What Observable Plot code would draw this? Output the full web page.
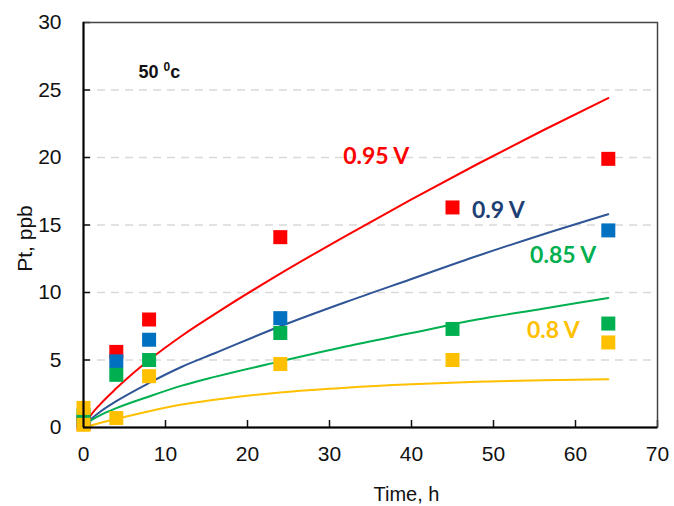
<!DOCTYPE html>
<html><head><meta charset="utf-8">
<script src="https://cdn.jsdelivr.net/npm/d3@7"></script>
<script src="https://cdn.jsdelivr.net/npm/@observablehq/plot@0.6"></script>
<style>html,body{margin:0;padding:0;background:#fff}</style>
</head><body><div id="chart"></div>
<script>
// ---- data ----
const seriesNames = ["0.95 V", "0.9 V", "0.85 V", "0.8 V"];
const markerColors = ["#FF0000", "#0070C0", "#00B050", "#FFC000"];
const lineColors = ["#FF0000", "#2F5597", "#00B050", "#FFC000"];
const labelColors = ["#FF0000", "#203F74", "#00B050", "#FFC000"];

// measured points (time h, Pt ppb)
const redTimes = [0, 4, 8, 24, 45, 64];
const redPt = [0.3, 5.6, 8.0, 14.1, 16.3, 19.9];
const blueTimes = [0, 4, 8, 24, 64];
const bluePt = [0.5, 4.9, 6.5, 8.1, 14.6];
const greenTimes = [0, 4, 8, 24, 45, 64];
const greenPt = [0.9, 3.9, 5.0, 7.0, 7.3, 7.7];
const yellowTimes = [0, 0, 4, 8, 24, 45, 64];
const yellowPt = [1.45, 0.2, 0.7, 3.8, 4.7, 5.0, 6.3];

// model curves
const curveTimes = [0, 1, 2, 4, 8, 12, 16, 24, 32, 40, 48, 56, 64];
const redCurve = [0, 1.0, 1.7, 2.9, 5.0, 6.8, 8.4, 11.4, 14.2, 16.9, 19.5, 22.0, 24.4];
const blueCurve = [0, 0.67, 1.15, 1.95, 3.3, 4.5, 5.5, 7.5, 9.3, 11.0, 12.7, 14.3, 15.8];
const greenCurve = [0, 0.56, 0.9, 1.43, 2.3, 3.1, 3.75, 4.9, 6.0, 7.0, 8.0, 8.8, 9.6];
const yellowCurve = [0, 0.17, 0.33, 0.63, 1.2, 1.7, 2.05, 2.6, 2.95, 3.2, 3.38, 3.5, 3.57];

// series label anchors (data units)
const labelTimes = [35.7, 50.6, 58.5, 57.3];
const labelPt = [20.1, 16.1, 12.7, 7.2];

const xTicks = [0, 10, 20, 30, 40, 50, 60, 70];
const yTicks = [0, 5, 10, 15, 20, 25, 30];
const gridTicks = [5, 10, 15, 20, 25];
const xTitle = "Time, h";
const yTitle = "Pt, ppb";
const yTitleAt = 14.0;
const note = "50 0c";
const noteTime = 6.7, notePt = 26.3;

// ---- build tables ----
const pointSets = [[redTimes, redPt], [blueTimes, bluePt], [greenTimes, greenPt], [yellowTimes, yellowPt]];
const points = pointSets.flatMap(([ts, vs], i) => ts.map((t, j) => ({t, v: vs[j], s: i})));
const curveSets = [redCurve, blueCurve, greenCurve, yellowCurve];
const curves = curveSets.flatMap((vs, i) => curveTimes.map((t, j) => ({t, v: vs[j], s: i})));
const labels = seriesNames.map((name, i) => ({name, t: labelTimes[i], v: labelPt[i], s: i}));

const W = 674, H = 506;
const mL = 83, mR = 17, mT = 22, mB = 79;
const innerW = W - mL - mR, innerH = H - mT - mB;
const tickFont = "'Liberation Sans', Arial, sans-serif";

const chart = Plot.plot({
  width: W, height: H,
  marginLeft: mL, marginRight: mR, marginTop: mT, marginBottom: mB,
  style: {fontFamily: tickFont, background: "#fff"},
  x: {domain: [0, 70]},
  y: {domain: [0, 30]},
  marks: [
    Plot.ruleY(gridTicks, {y: d => d, stroke: "#D9D9D9", strokeWidth: 1.5, strokeDasharray: "8,6"}),
    Plot.axisX(xTicks, {tickSize: 0, tickPadding: 19, fontSize: 21, fill: "#111", label: null}),
    Plot.axisY(yTicks, {tickSize: 0, tickPadding: 22, fontSize: 21, fill: "#111", label: null}),
    Plot.tickX(xTicks, {x: d => d, insetTop: innerH - 7, stroke: "#111", strokeWidth: 1.5}),
    Plot.tickY(yTicks, {y: d => d, insetRight: innerW - 7, stroke: "#111", strokeWidth: 1.5}),
    Plot.line(curves, {x: "t", y: "v", z: "s", stroke: d => lineColors[d.s], strokeWidth: 2, curve: "monotone-x"}),
    Plot.dot(points, {x: "t", y: "v", symbol: "square", r: 7.9, fill: d => markerColors[d.s], stroke: "none"}),
    Plot.text(labels, {x: "t", y: "v", text: "name", fill: d => labelColors[d.s], fontSize: 23, fontWeight: "bold", fontFamily: "Lato, 'Open Sans', sans-serif"}),
    Plot.text([note], {x: () => noteTime, y: () => notePt, text: d => d, textAnchor: "start", fontSize: 18, fontWeight: "bold", fill: "#111", className: "note"}),
    Plot.frame({stroke: "#444", strokeWidth: 1.5}),
    Plot.ruleX([0], {x: d => d, stroke: "#000", strokeWidth: 2}),
    Plot.ruleY([0], {y: d => d, stroke: "#000", strokeWidth: 2}),
    Plot.text([xTitle], {frameAnchor: "bottom", dx: 36, dy: 67, text: d => d, fontSize: 20, fill: "#111", textAnchor: "middle", lineAnchor: "middle"}),
    Plot.text([yTitle], {y: () => yTitleAt, frameAnchor: "left", dx: -58, rotate: -90, text: d => d, fontSize: 21, fill: "#111", textAnchor: "middle", lineAnchor: "middle"})
  ]
});
document.getElementById("chart").appendChild(chart);

// superscript for the "0" in the note, keeping the text itself
chart.querySelectorAll("g.note text").forEach(t => {
  const s = t.textContent; // "50 0c"
  t.textContent = "";
  const a = document.createElementNS("http://www.w3.org/2000/svg", "tspan");
  a.textContent = s.slice(0, 3);
  const b = document.createElementNS("http://www.w3.org/2000/svg", "tspan");
  b.textContent = s.slice(3, 4);
  b.setAttribute("dy", "-7"); b.setAttribute("font-size", "12");
  const c = document.createElementNS("http://www.w3.org/2000/svg", "tspan");
  c.textContent = s.slice(4);
  c.setAttribute("dy", "7");
  t.append(a, b, c);
});
</script>
</body></html>
